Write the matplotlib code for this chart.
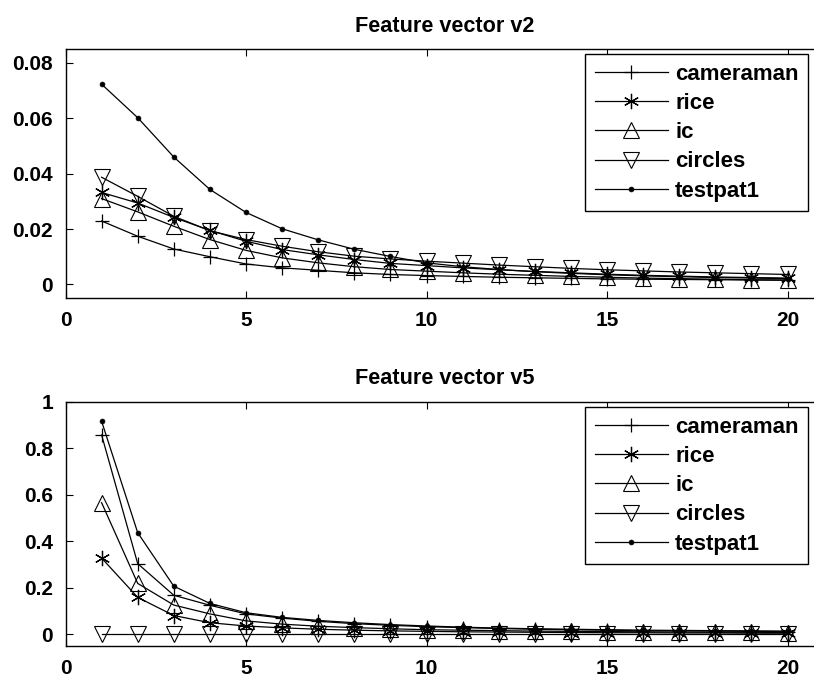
import matplotlib
matplotlib.use("Agg")
import matplotlib.pyplot as plt

x = list(range(1, 21))
labels = ["cameraman", "rice", "ic", "circles", "testpat1"]

# Feature vector v2
v2_cameraman = [0.0229, 0.0174, 0.0128, 0.0100, 0.0074, 0.0060, 0.0051, 0.0042, 0.0036, 0.0032,
                0.0029, 0.0026, 0.0024, 0.0022, 0.0020, 0.0019, 0.0018, 0.0017, 0.0016, 0.0015]
v2_rice = [0.0332, 0.0294, 0.0242, 0.0195, 0.0156, 0.0126, 0.0107, 0.0090, 0.0076, 0.0068,
           0.0060, 0.0053, 0.0047, 0.0042, 0.0037, 0.0033, 0.0030, 0.0027, 0.0025, 0.0023]
v2_ic = [0.0310, 0.0262, 0.0210, 0.0162, 0.0123, 0.0096, 0.0078, 0.0064, 0.0054, 0.0048,
         0.0042, 0.0037, 0.0033, 0.0029, 0.0026, 0.0023, 0.0021, 0.0019, 0.0017, 0.0016]
v2_circles = [0.0387, 0.0318, 0.0246, 0.0194, 0.0162, 0.0138, 0.0118, 0.0102, 0.0092, 0.0084,
              0.0077, 0.0070, 0.0064, 0.0058, 0.0053, 0.0049, 0.0045, 0.0042, 0.0039, 0.0036]
v2_testpat1 = [0.0723, 0.0602, 0.0460, 0.0343, 0.0260, 0.0201, 0.0161, 0.0127, 0.0101, 0.0078,
               0.0064, 0.0054, 0.0046, 0.0040, 0.0035, 0.0031, 0.0028, 0.0025, 0.0023, 0.0021]

# Feature vector v5
v5_cameraman = [0.857, 0.304, 0.168, 0.125, 0.088, 0.070, 0.056, 0.046, 0.039, 0.033,
                0.029, 0.025, 0.022, 0.020, 0.018, 0.016, 0.015, 0.014, 0.013, 0.012]
v5_rice = [0.328, 0.159, 0.081, 0.050, 0.036, 0.028, 0.022, 0.018, 0.015, 0.013,
           0.011, 0.010, 0.009, 0.008, 0.007, 0.007, 0.006, 0.006, 0.005, 0.005]
v5_ic = [0.566, 0.219, 0.126, 0.088, 0.058, 0.044, 0.035, 0.029, 0.024, 0.020,
         0.018, 0.016, 0.014, 0.013, 0.012, 0.011, 0.010, 0.009, 0.009, 0.008]
v5_circles = [0.002, 0.002, 0.002, 0.002, 0.002, 0.002, 0.002, 0.002, 0.002, 0.002,
              0.002, 0.002, 0.002, 0.002, 0.002, 0.002, 0.002, 0.002, 0.002, 0.002]
v5_testpat1 = [0.916, 0.437, 0.207, 0.133, 0.093, 0.073, 0.060, 0.050, 0.042, 0.036,
               0.031, 0.027, 0.024, 0.022, 0.020, 0.018, 0.017, 0.016, 0.015, 0.014]

plt.rcParams['font.family'] = ['Liberation Sans', 'DejaVu Sans']
plt.rcParams['font.weight'] = 'bold'

W, H = 814, 678
fig = plt.figure(figsize=(W / 100, H / 100), dpi=100)

styles = [
    dict(marker='+', markersize=10, mew=0.9),
    dict(marker=(6, 2, 0), markersize=11, mew=0.9),
    dict(marker='^', markersize=11, mew=0.8, mfc='none'),
    dict(marker='v', markersize=11, mew=0.8, mfc='none'),
    dict(marker='o', markersize=3.5, mew=0.5, mfc='black'),
]

def px_rect(l, t, r, b):
    return [l / W, 1 - b / H, (r - l) / W, (b - t) / H]

panels = [
    dict(rect=px_rect(65.5, 49, 823.6, 298.3), data=[v2_cameraman, v2_rice, v2_ic, v2_circles, v2_testpat1],
         ylim=(-0.005, 0.085), yticks=[0, 0.02, 0.04, 0.06, 0.08], yticklabels=['0', '0.02', '0.04', '0.06', '0.08'],
         title='Feature vector v2', leg_top=54.3),
    dict(rect=px_rect(65.5, 401.7, 823.6, 646), data=[v5_cameraman, v5_rice, v5_ic, v5_circles, v5_testpat1],
         ylim=(-0.05, 1.0), yticks=[0, 0.2, 0.4, 0.6, 0.8, 1.0], yticklabels=['0', '0.2', '0.4', '0.6', '0.8', '1'],
         title='Feature vector v5', leg_top=407.3),
]

for p in panels:
    ax = fig.add_axes(p['rect'])
    for series, lab, st in zip(p['data'], labels, styles):
        ax.plot(x, series, color='black', lw=0.9, mec='black', label=lab, **st)
    ax.set_xlim(0, 21)
    ax.set_ylim(*p['ylim'])
    ax.set_xticks([0, 5, 10, 15, 20])
    ax.set_xticklabels(['0', '5', '10', '15', '20'])
    ax.set_yticks(p['yticks'])
    ax.set_yticklabels(p['yticklabels'])
    ax.tick_params(direction='in', length=5, width=0.8, top=True, right=True, labelsize=15)
    ax.tick_params(axis='x', pad=9.5)
    ax.tick_params(axis='y', pad=9)
    for s in ax.spines.values():
        s.set_linewidth(1.0)
    ax.set_title(p['title'], fontsize=15.6, fontweight='bold', pad=12.5)
    leg = ax.legend(loc='upper right', bbox_to_anchor=(808 / W, 1 - p['leg_top'] / H),
                    bbox_transform=fig.transFigure, fancybox=False, framealpha=1,
                    edgecolor='black', fontsize=16, handlelength=3.3, borderaxespad=0,
                    labelspacing=0.37, handletextpad=0.32, borderpad=0.42)
    leg.get_frame().set_linewidth(1.0)

fig.savefig('out.png', dpi=100)
